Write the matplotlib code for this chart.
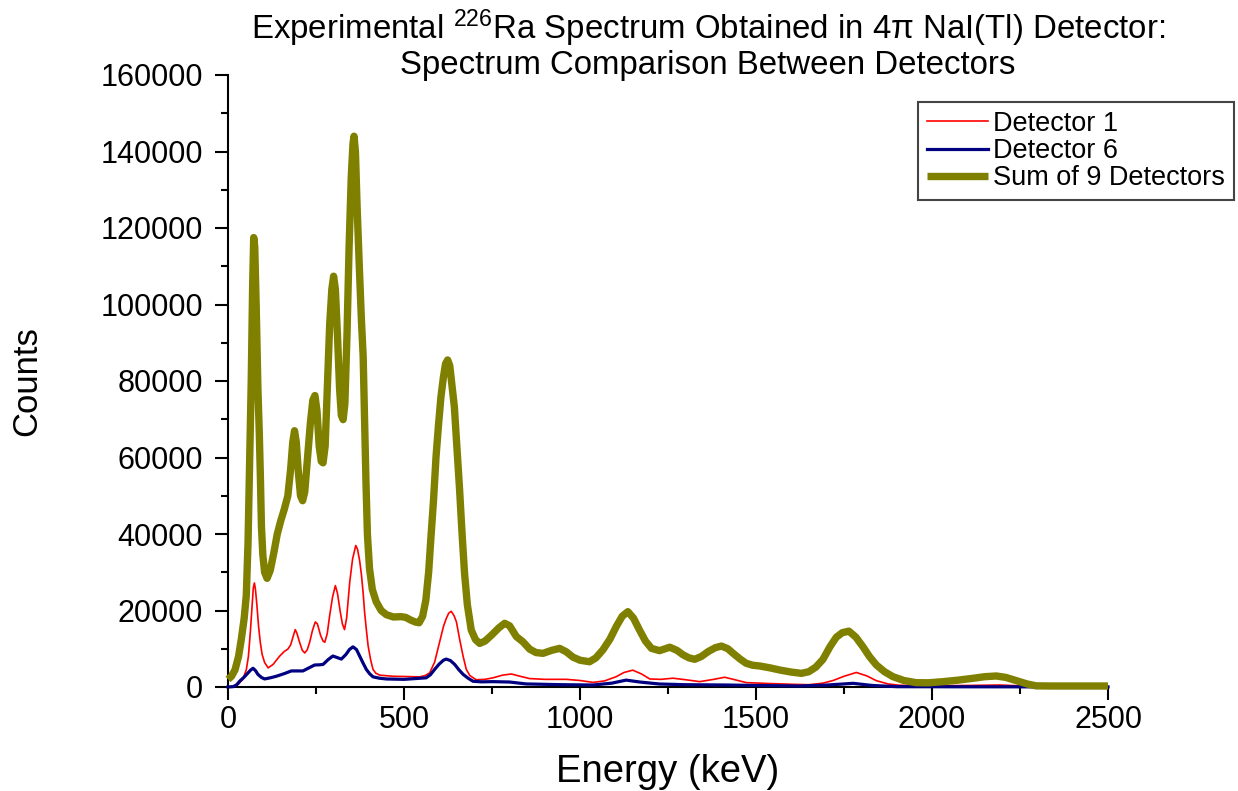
import matplotlib
matplotlib.use("Agg")
import matplotlib.pyplot as plt
from matplotlib.ticker import MultipleLocator

plt.rcParams['font.family'] = ['Liberation Sans', 'DejaVu Sans']
plt.rcParams['mathtext.fontset'] = 'custom'
plt.rcParams['mathtext.rm'] = 'Liberation Sans'
plt.rcParams['mathtext.default'] = 'regular'

# ---- data ----
sum_keV = [0, 10, 20, 30, 38, 46, 52, 57, 62, 66, 70, 73, 76, 80, 85, 89, 92, 95, 99, 104,
           111, 120, 130, 140, 150, 160, 170, 178, 184, 189, 194, 200, 206, 212, 218, 226,
           234, 241, 247, 253, 259, 265, 270, 276, 282, 289, 295, 300, 305, 311, 317, 322,
           327, 332, 338, 344, 350, 355, 358, 362, 367, 373, 379, 384, 388, 392, 396, 402,
           410, 421, 435, 450, 470, 491, 505, 519, 532, 543, 553, 562, 570, 576, 584, 591,
           598, 605, 612, 618, 624, 630, 636, 643, 650, 658, 665, 672, 680, 691, 703, 715,
           730, 748, 770, 786, 800, 819, 838, 857, 875, 895, 920, 942, 961, 980, 1000, 1027,
           1045, 1065, 1085, 1103, 1120, 1136, 1152, 1169, 1186, 1203, 1226, 1255, 1275,
           1293, 1310, 1326, 1345, 1364, 1385, 1402, 1420, 1435, 1455, 1472, 1490, 1510,
           1540, 1567, 1600, 1629, 1650, 1670, 1690, 1710, 1728, 1745, 1764, 1784, 1804,
           1822, 1842, 1865, 1889, 1920, 1955, 1990, 2031, 2075, 2116, 2150, 2183, 2210,
           2240, 2270, 2296, 2340, 2382, 2440, 2500]
sum_counts = [2000, 2800, 4500, 8000, 12600, 18000, 24000, 38000, 62000, 80000, 105000,
              117500, 115000, 100000, 78000, 66000, 55000, 42000, 34500, 30000, 28400,
              30500, 35000, 40000, 43500, 46500, 50000, 57000, 64000, 67000, 64000, 56000,
              50000, 48700, 51000, 60000, 69000, 75000, 76200, 72000, 63000, 59000, 58600,
              63000, 78000, 95000, 104000, 107400, 104000, 92000, 78000, 71000, 69900,
              74000, 92000, 115000, 133000, 142000, 144000, 140000, 125000, 110000, 96000,
              86400, 70000, 53400, 40000, 31000, 25500, 22300, 20000, 18900, 18300, 18400,
              18200, 17500, 17000, 16800, 18500, 22700, 30000, 38400, 49000, 60200, 68500,
              75900, 81000, 84500, 85500, 84000, 79000, 73300, 63000, 51500, 40000, 29700,
              21500, 14900, 12400, 11400, 12000, 13500, 15500, 16650, 16000, 13200, 11800,
              9900, 9000, 8800, 9600, 10100, 9200, 7800, 7000, 6600, 7600, 9700, 12500,
              15800, 18500, 19700, 18000, 14900, 12000, 10100, 9500, 10400, 9600, 8400,
              7600, 7240, 8000, 9250, 10300, 10700, 10000, 8800, 7300, 6200, 5700, 5500,
              5000, 4450, 3900, 3570, 4000, 5200, 7200, 10500, 13000, 14200, 14600, 13000,
              10500, 8000, 5750, 4000, 2700, 1700, 1130, 1100, 1390, 1800, 2270, 2700,
              2880, 2500, 1650, 800, 300, 260, 260, 260, 260]

det1_keV = [0, 15, 30, 42, 52, 58, 64, 69, 72, 75, 78, 82, 87, 92, 97, 104, 114, 128, 147,
            160, 170, 178, 185, 191, 196, 204, 211, 218, 225, 232, 240, 248, 254, 263, 270,
            275, 282, 289, 297, 305, 311, 319, 325, 331, 337, 346, 354, 363, 368, 374, 379,
            384, 388, 393, 398, 405, 412, 420, 431, 469, 500, 545, 560, 573, 587, 601, 612,
            620, 627, 634, 642, 649, 658, 668, 677, 687, 705, 730, 753, 780, 805, 830, 857,
            900, 961, 1000, 1037, 1070, 1103, 1125, 1150, 1175, 1198, 1230, 1264, 1300,
            1340, 1380, 1411, 1440, 1472, 1540, 1605, 1650, 1690, 1719, 1750, 1785, 1815,
            1842, 1875, 1908, 2000, 2100, 2192, 2250, 2287, 2400, 2500]
det1_counts = [0, 200, 800, 2000, 4500, 8000, 15000, 22000, 26000, 27200, 25500, 21500,
               15700, 11500, 8500, 6400, 5000, 5900, 8100, 9300, 9900, 11000, 13200, 15000,
               14000, 11500, 9600, 8900, 9700, 11700, 14800, 17000, 16500, 13500, 12000,
               11700, 14000, 18800, 23500, 26500, 24500, 19600, 16500, 15000, 18000, 27600,
               33500, 37000, 36000, 33000, 29400, 24500, 19600, 15000, 10800, 7200, 4600,
               3600, 3100, 2800, 2750, 2650, 3000, 3700, 6500, 11700, 15800, 17900, 19300,
               19800, 18700, 17000, 12500, 8000, 4600, 3000, 1900, 2000, 2400, 3100, 3400,
               2800, 2200, 2000, 2000, 1700, 1200, 1600, 2700, 3800, 4400, 3400, 2100, 2000,
               2300, 1900, 1400, 2000, 2550, 1900, 1150, 900, 700, 600, 1000, 1700, 2800,
               3800, 2900, 1650, 800, 450, 300, 400, 520, 300, 100, 30, 0]

det6_keV = [0, 15, 25, 33, 45, 57, 64, 71, 78, 85, 95, 104, 120, 137, 160, 180, 195, 213,
            230, 246, 260, 270, 285, 298, 310, 322, 335, 345, 355, 365, 374, 384, 393, 402,
            412, 430, 450, 500, 563, 575, 587, 600, 612, 620, 632, 644, 656, 668, 682, 696,
            720, 753, 800, 847, 950, 1037, 1090, 1131, 1170, 1226, 1300, 1416, 1500, 1624,
            1700, 1776, 1830, 1900, 2100, 2500]
det6_counts = [0, 100, 600, 1500, 2500, 3700, 4400, 4900, 4300, 3300, 2500, 2100, 2400,
               2800, 3500, 4200, 4200, 4200, 5000, 5750, 5800, 5900, 7200, 8100, 7700, 7300,
               8500, 9800, 10500, 9800, 8100, 6200, 4600, 3500, 2650, 2300, 2100, 2000,
               2400, 3200, 4600, 6000, 7000, 7300, 6900, 5900, 4500, 3300, 2300, 1500, 1350,
               1400, 1300, 800, 600, 520, 1000, 1800, 1300, 780, 600, 520, 400, 260, 500,
               960, 400, 90, 60, 30]

series_labels = ["Detector 1", "Detector 6", "Sum of 9 Detectors"]
x_ticks = [0, 500, 1000, 1500, 2000, 2500]
y_ticks = [0, 20000, 40000, 60000, 80000, 100000, 120000, 140000, 160000]

W, H = 1238, 791
fig = plt.figure(figsize=(W / 100, H / 100), dpi=100)
ax = fig.add_axes([228 / W, 1 - 687 / H, 880 / W, 612 / H])

ax.plot(det1_keV, det1_counts, color='#FF0000', lw=1.2, label=series_labels[0],
        clip_on=False, zorder=3)
ax.plot(det6_keV, det6_counts, color='#000080', lw=2.3, label=series_labels[1],
        clip_on=False, zorder=4, solid_joinstyle='round')
ax.plot(sum_keV, sum_counts, color='#808000', lw=5.3, label=series_labels[2],
        clip_on=False, zorder=5, solid_joinstyle='round', solid_capstyle='butt')

ax.set_xlim(0, 2500)
ax.set_ylim(0, 160000)
ax.set_xticks(x_ticks)
ax.set_yticks(y_ticks)
ax.set_xticklabels([str(v) for v in x_ticks])
ax.set_yticklabels([str(v) for v in y_ticks])
ax.xaxis.set_minor_locator(MultipleLocator(250))
ax.yaxis.set_minor_locator(MultipleLocator(10000))

for s in ['top', 'right']:
    ax.spines[s].set_visible(False)
for s in ['left', 'bottom']:
    ax.spines[s].set_linewidth(1.5)
    ax.spines[s].set_color('black')

ax.tick_params(axis='both', which='major', direction='out', length=9.4, width=1.5,
               labelsize=22, color='black')
ax.tick_params(axis='both', which='minor', direction='out', length=5, width=1.5)
ax.tick_params(axis='y', which='major', pad=8.5)
ax.tick_params(axis='x', which='major', pad=3.5)

ax.set_xlabel('Energy (keV)', fontsize=27.5, va='center')
ax.xaxis.set_label_coords(0.5, -(772 - 687) / 612)
ax.set_ylabel('Counts', fontsize=25, va='center')
ax.yaxis.set_label_coords((27 - 228) / 880, 0.5)

fig.text(708 / W, 1 - 7 / H,
         'Experimental $^{226}$Ra Spectrum Obtained in 4\u03c0 NaI(Tl) Detector:\n'
         'Spectrum Comparison Between Detectors',
         ha='center', va='top', fontsize=23.8, linespacing=1.05)

leg = ax.legend(loc='upper left', bbox_to_anchor=(918 / W, 1 - 102 / H),
                bbox_transform=fig.transFigure, fontsize=19.5, frameon=True,
                fancybox=False, shadow=False, borderpad=0.32, labelspacing=0.05,
                handlelength=2.25, handletextpad=0.2, borderaxespad=0.0)
leg.get_frame().set_edgecolor('#444444')
leg.get_frame().set_linewidth(1.5)
leg.get_frame().set_alpha(1)

fig.savefig('out.png', dpi=100)
